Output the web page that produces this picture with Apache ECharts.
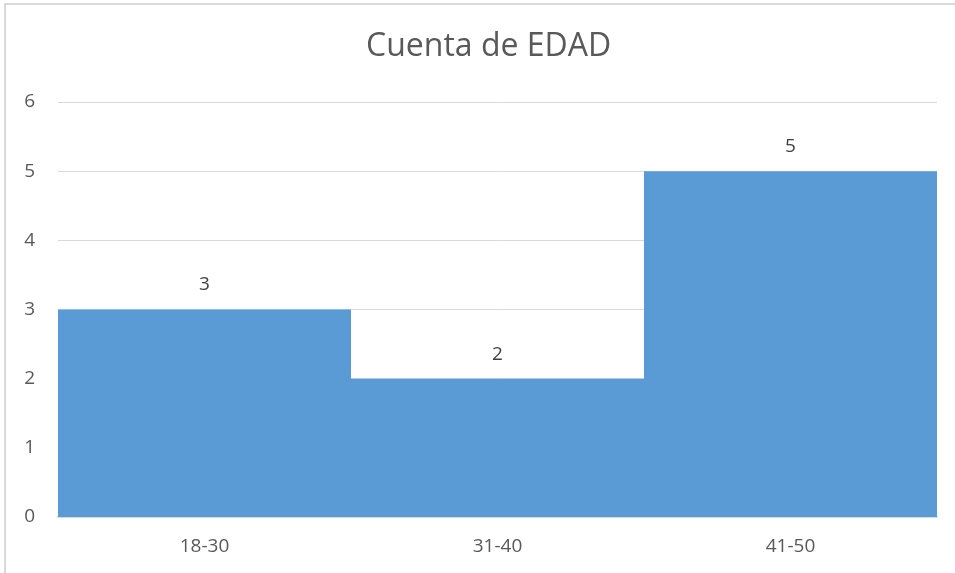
<!DOCTYPE html>
<html>
<head>
<meta charset="utf-8">
<script src="https://cdn.jsdelivr.net/npm/echarts@6/dist/echarts.min.js"></script>
<style>
  html, body { margin: 0; padding: 0; background: #fff; }
  #chart { width: 955px; height: 573px; }
</style>
</head>
<body>
<div id="chart"></div>
<script>
// Age groups and counts
const categories = ['18-30', '31-40', '41-50'];
const counts = [3, 2, 5];
const yTicks = [0, 1, 2, 3, 4, 5, 6];

const FONT = 'Open Sans';
const chart = echarts.init(document.getElementById('chart'));

const option = {
    backgroundColor: '#ffffff',
    textStyle: { fontFamily: FONT },
    title: {
        text: 'Cuenta de EDAD',
        left: 361,
        top: 26,
        textStyle: { fontSize: 32, fontWeight: 'normal', color: '#595959', fontFamily: FONT }
    },
    graphic: [{
        type: 'rect',
        shape: { x: 5, y: 4, width: 1000, height: 1000 },
        style: { fill: 'none', stroke: '#d9d9d9', lineWidth: 2 },
        silent: true
    }],
    grid: { left: 58, right: 18, top: 102, bottom: 56 },
    xAxis: {
        type: 'category',
        data: categories,
        axisTick: { show: false },
        axisLine: { lineStyle: { color: '#d9d9d9', width: 2 } },
        axisLabel: { color: '#595959', fontSize: 19, margin: 20, fontFamily: FONT }
    },
    yAxis: {
        type: 'value',
        min: yTicks[0],
        max: yTicks[yTicks.length - 1],
        interval: 1,
        axisLine: { show: false },
        axisTick: { show: false },
        splitLine: { lineStyle: { color: '#d9d9d9', width: 1 } },
        axisLabel: { color: '#595959', fontSize: 19, margin: 23, fontFamily: FONT }
    },
    series: [{
        type: 'bar',
        data: counts,
        barCategoryGap: 0,
        itemStyle: { color: '#5b9bd5' },
        label: {
            show: true,
            position: 'top',
            distance: 15,
            color: '#404040',
            fontSize: 19,
            fontFamily: FONT
        }
    }]
};

chart.setOption(option);
</script>
</body>
</html>
